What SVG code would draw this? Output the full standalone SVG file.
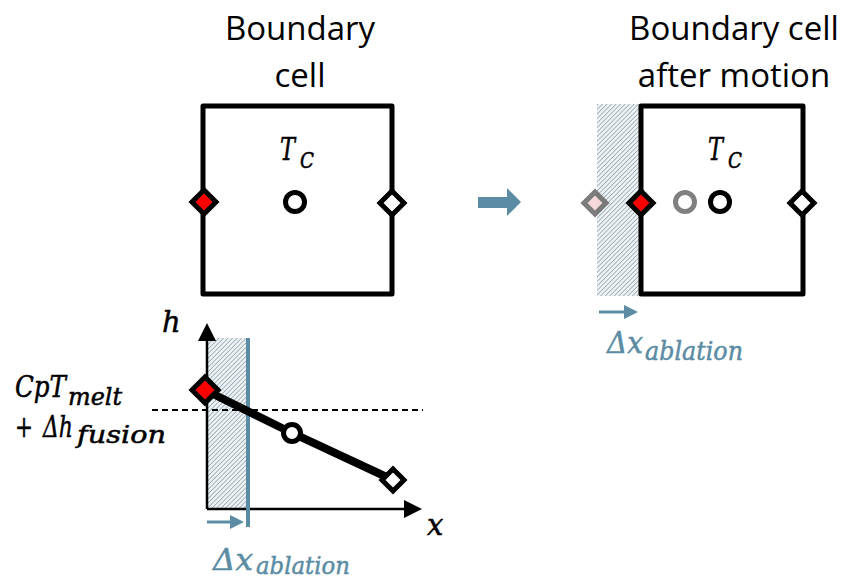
<svg xmlns="http://www.w3.org/2000/svg" width="850" height="580" viewBox="0 0 850 580">
<defs>
<pattern id="hatch" width="3.2" height="3.2" patternUnits="userSpaceOnUse" patternTransform="rotate(45)">
<rect width="3.2" height="3.2" fill="#eef2f4"/>
<line x1="0" y1="0" x2="0" y2="3.2" stroke="#8fa3ad" stroke-width="1.5"/>
</pattern>
</defs>
<style>
.title{font-family:"Open Sans","Liberation Sans",sans-serif;font-size:33px;fill:#000;text-anchor:middle}
.math{font-family:"DejaVu Serif","Liberation Serif",serif;font-style:italic;fill:#000;stroke:#000;stroke-width:0.5}
.blue{fill:#5b8ca4;stroke:#5b8ca4}
.cell{fill:#fff;stroke:#000;stroke-width:5;stroke-linejoin:round}
.dia{stroke:#000;stroke-width:5;stroke-linejoin:miter}
.circ{fill:#fff;stroke:#000;stroke-width:5}
</style>

<g id="title-left">
<text class="title" x="300" y="40">Boundary</text>
<text class="title" x="300" y="87">cell</text>
</g>
<g id="title-right">
<text class="title" x="734" y="40">Boundary cell</text>
<text class="title" x="734" y="87">after motion</text>
</g>

<g id="cell-left">
<rect class="cell" x="203" y="106" width="189" height="188"/>
<text class="math"><tspan x="280" y="160" font-size="32" textLength="15" lengthAdjust="spacingAndGlyphs">T</tspan><tspan x="300" y="168" font-size="22" textLength="14" lengthAdjust="spacingAndGlyphs">C</tspan></text>
<circle class="circ" cx="295" cy="202" r="9.5"/>
<path class="dia" d="M204,190 L216,202 L204,214 L192,202 Z" fill="#f00"/>
<path class="dia" d="M392,191 L404,203 L392,215 L380,203 Z" fill="#fff"/>
</g>

<g id="motion-arrow">
<path d="M478,197 L507,197 L507,188 L521,202 L507,216 L507,208 L478,208 Z" fill="#5b8ca4"/>
</g>

<g id="cell-right">
<rect x="597" y="104" width="44" height="192" fill="url(#hatch)"/>
<rect class="cell" x="641" y="106" width="162" height="188"/>
<text class="math"><tspan x="708" y="160" font-size="32" textLength="15" lengthAdjust="spacingAndGlyphs">T</tspan><tspan x="728" y="168" font-size="22" textLength="14" lengthAdjust="spacingAndGlyphs">C</tspan></text>
<path d="M595,192 L606,203 L595,214 L584,203 Z" fill="#f6d6d6" stroke="#6e6e6e" stroke-width="5" opacity="0.9"/>
<path class="dia" d="M641,191 L653,203 L641,215 L629,203 Z" fill="#f00"/>
<circle cx="685" cy="202" r="9.5" fill="#fff" stroke="#808080" stroke-width="5"/>
<circle class="circ" cx="720" cy="202" r="9.5"/>
<path class="dia" d="M802,191 L814,203 L802,215 L790,203 Z" fill="#fff"/>
<path d="M599,312 L626,312" stroke="#5b8ca4" stroke-width="3"/>
<path d="M624,305 L638,312 L624,319 Z" fill="#5b8ca4"/>
<text class="math blue"><tspan x="607" y="353" font-size="30" textLength="36" lengthAdjust="spacingAndGlyphs">Δx</tspan><tspan x="645" y="360" font-size="26" textLength="98" lengthAdjust="spacingAndGlyphs">ablation</tspan></text>
</g>

<g id="graph">
<rect x="207" y="338" width="41" height="171" fill="url(#hatch)"/>
<path d="M207,509 L207,333" stroke="#000" stroke-width="2.5" fill="none"/>
<path d="M198,341 L207,323 L216,341 Z" fill="#000"/>
<path d="M207,509 L410,509" stroke="#000" stroke-width="2.5" fill="none"/>
<path d="M404,500 L422,509 L404,518 Z" fill="#000"/>
<line x1="248" y1="338" x2="248" y2="527" stroke="#5b8ca4" stroke-width="4"/>
<line x1="152" y1="410" x2="423" y2="410" stroke="#000" stroke-width="2" stroke-dasharray="6,4"/>
<polyline points="205,390 292,433 393,480" fill="none" stroke="#000" stroke-width="8"/>
<path class="dia" d="M205,377 L218,390 L205,403 L192,390 Z" fill="#f00"/>
<circle class="circ" cx="292" cy="433" r="8.5" stroke-width="4.5"/>
<path class="dia" d="M393,469 L404,480 L393,491 L382,480 Z" fill="#fff"/>
<path d="M207,522 L232,522" stroke="#5b8ca4" stroke-width="3"/>
<path d="M230,515 L244,522 L230,529 Z" fill="#5b8ca4"/>
<text class="math" x="162" y="332" font-size="29">h</text>
<text class="math" x="427" y="535" font-size="29">x</text>
<text class="math"><tspan x="15" y="397" font-size="29" textLength="51" lengthAdjust="spacingAndGlyphs">CpT</tspan><tspan x="68" y="405" font-size="24" textLength="54" lengthAdjust="spacingAndGlyphs">melt</tspan></text>
<text class="math"><tspan x="15" y="437" font-size="29" textLength="18" lengthAdjust="spacingAndGlyphs">+</tspan><tspan x="43" y="437" font-size="29" textLength="30" lengthAdjust="spacingAndGlyphs">Δh</tspan><tspan x="77" y="443" font-size="24" textLength="89" lengthAdjust="spacingAndGlyphs">fusion</tspan></text>
<text class="math blue"><tspan x="213" y="570" font-size="30" textLength="40" lengthAdjust="spacingAndGlyphs">Δx</tspan><tspan x="256" y="574" font-size="25" textLength="94" lengthAdjust="spacingAndGlyphs">ablation</tspan></text>
</g>
</svg>
